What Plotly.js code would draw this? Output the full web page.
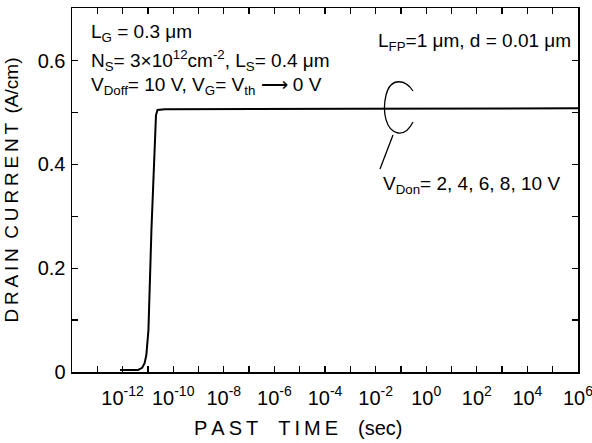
<!DOCTYPE html>
<html>
<head>
<meta charset="utf-8">
<script src="https://cdn.plot.ly/plotly-3.0.1.min.js"></script>
<style>html,body{margin:0;padding:0;background:#fff;}#chart{width:592px;height:443px;}</style>
</head>
<body>
<div id="chart"></div>
<script>
// Past time (sec) and drain current (A/cm) (curves for VDon = 2..10 V overlap)
const pastTime = [7.9e-13, 4.1e-12, 5.9e-12, 7.4e-12, 8.7e-12, 1.05e-11, 1.38e-11, 1.9e-11, 2.09e-11, 2.4e-11, 4.7e-11, 1e-3, 1e6];
const drainCurrent = [0.004, 0.004, 0.008, 0.017, 0.033, 0.081, 0.274, 0.466, 0.495, 0.505, 0.506, 0.507, 0.508];

const xTickVals = [1e-13,1e-12,1e-11,1e-10,1e-9,1e-8,1e-7,1e-6,1e-5,1e-4,1e-3,1e-2,1e-1,1e0,1e1,1e2,1e3,1e4,1e5,1e6];
const xTickText = ["","10<sup>-12</sup>","","10<sup>-10</sup>","","10<sup>-8</sup>","","10<sup>-6</sup>","","10<sup>-4</sup>","","10<sup>-2</sup>","","10<sup>0</sup>","","10<sup>2</sup>","","10<sup>4</sup>","","10<sup>6</sup>"];
const yTickVals = [0,0.1,0.2,0.3,0.4,0.5,0.6];
const yTickText = ["0","","0.2","","0.4","","0.6"];

const FONT = "Liberation Sans, Arial, sans-serif";
const ML = 72, MT = 8, PW = 506, PH = 364;
function px(x){ return +((x-ML)/PW).toFixed(4); }
function py(y){ return +(1-(y-MT)/PH).toFixed(4); }
function pt(x,y){ return px(x)+","+py(y); }

const bracket = "M "+pt(413,91)+" C "+pt(406,80)+" "+pt(391,76)+" "+pt(386,95)+
  " C "+pt(382,112)+" "+pt(386,131)+" "+pt(398,133)+" C "+pt(405,134)+" "+pt(410,128)+" "+pt(413,122);
const leader = "M "+pt(393,135)+" L "+pt(380,169);

const trace = {
  x: pastTime, y: drainCurrent, type: "scatter", mode: "lines",
  line: {color: "#000", width: 2},
  name: "V<sub>Don</sub> = 2, 4, 6, 8, 10 V", showlegend: false
};

const annFont = {family: FONT, size: 19, color: "#000"};
const titleFont = {family: FONT, size: 19, color: "#000"};
const layout = {
  width: 592, height: 443,
  margin: {l: ML, r: 592-ML-PW, t: MT, b: 443-MT-PH},
  paper_bgcolor: "#fff", plot_bgcolor: "#fff",
  showlegend: false,
  font: {family: FONT, color: "#000"},
  xaxis: {
    type: "log", range: [-14, 6],
    tickmode: "array", tickvals: xTickVals, ticktext: xTickText,
    ticks: "inside", ticklen: 6, tickwidth: 1.3, tickcolor: "#000",
    showline: true, linecolor: "#000", linewidth: 1.5, mirror: "ticks",
    showgrid: false, zeroline: false, ticklabelstandoff: 7, ticklabeloverflow: "allow",
    tickfont: {family: FONT, size: 20, color: "#000"}
  },
  yaxis: {
    range: [0, 0.7013],
    tickmode: "array", tickvals: yTickVals, ticktext: yTickText,
    ticks: "inside", ticklen: 6, tickwidth: 1.3, tickcolor: "#000",
    showline: true, linecolor: "#000", linewidth: 1.5, mirror: "ticks",
    showgrid: false, zeroline: false, ticklabelstandoff: 1,
    tickfont: {family: FONT, size: 20, color: "#000"},
    title: {text: "D\u2009R\u2009A\u2009I\u2009N\u2002C\u2009U\u2009R\u2009R\u2009E\u2009N\u2009T\u2002(A/cm)", font: titleFont, standoff: 14}
  },
  shapes: [
    {type: "path", xref: "paper", yref: "paper", path: bracket, line: {color: "#000", width: 1.3}},
    {type: "path", xref: "paper", yref: "paper", path: leader, line: {color: "#000", width: 1.3}}
  ],
  annotations: [
    {xref: "paper", yref: "paper", x: px(298), y: py(428), xanchor: "center", yanchor: "middle", showarrow: false,
     text: "P\u2009A\u2009S\u2009T\u2003T\u2009I\u2009M\u2009E\u2003(sec)", font: {family: FONT, size: 20, color: "#000"}},
    {xref: "paper", yref: "paper", x: px(89), y: py(33), xanchor: "left", yanchor: "middle", showarrow: false, align: "left",
     text: "L<sub>G</sub> = 0.3 μm", font: annFont},
    {xref: "paper", yref: "paper", x: px(89), y: py(61), xanchor: "left", yanchor: "middle", showarrow: false, align: "left",
     text: "N<sub>S</sub>= 3×10<sup>12</sup>cm<sup>-2</sup>, L<sub>S</sub>= 0.4 μm", font: annFont},
    {xref: "paper", yref: "paper", x: px(89), y: py(86), xanchor: "left", yanchor: "middle", showarrow: false, align: "left",
     text: "V<sub>Doff</sub>= 10 V, V<sub>G</sub>= V<sub>th</sub> ⟶ 0 V", font: annFont},
    {xref: "paper", yref: "paper", x: px(573), y: py(42), xanchor: "right", yanchor: "middle", showarrow: false, align: "right",
     text: "L<sub>FP</sub>=1 μm, d = 0.01 μm", font: annFont},
    {xref: "paper", yref: "paper", x: px(381), y: py(185), xanchor: "left", yanchor: "middle", showarrow: false, align: "left",
     text: "V<sub>Don</sub>= 2, 4, 6, 8, 10 V", font: annFont}
  ]
};

Plotly.newPlot("chart", [trace], layout, {displayModeBar: false, staticPlot: true});
</script>
</body>
</html>
